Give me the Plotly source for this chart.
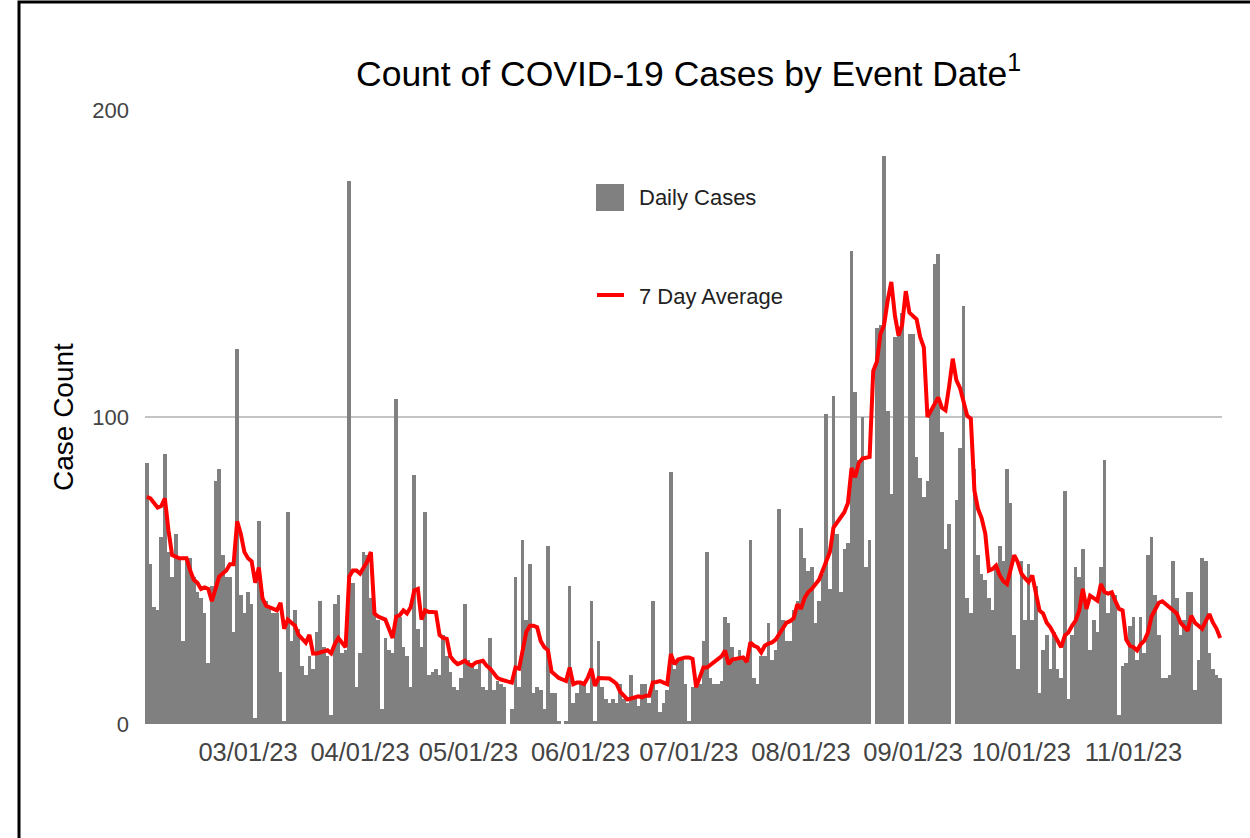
import pandas as pd
import plotly.graph_objects as go

# ---------------- data ----------------
START_DATE = "2023-02-01"

daily_cases = [
    85, 52, 38, 37, 61, 88, 56, 48, 62, 54,
    27, 54, 54, 48, 43, 41, 36, 20, 45, 79,
    83, 55, 48, 48, 30, 122, 42, 36, 43, 39,
    2, 66, 43, 40, 38, 36, 36, 17, 1, 69,
    27, 37, 31, 19, 16, 22, 18, 30, 40, 25,
    22, 3, 39, 42, 23, 24, 177, 46, 12, 23,
    56, 55, 41, 36, 34, 5, 28, 24, 23, 106,
    35, 25, 22, 12, 81, 31, 25, 69, 16, 17,
    18, 16, 29, 22, 17, 12, 11, 15, 39, 21,
    20, 18, 21, 12, 11, 28, 11, 14, 13, 12,
    0, 5, 48, 12, 60, 34, 52, 10, 12, 11,
    5, 58, 10, 10, 1, 0, 1, 45, 7, 10,
    13, 13, 10, 40, 1, 27, 12, 8, 7, 8,
    7, 13, 8, 7, 16, 9, 6, 13, 13, 7,
    40, 11, 4, 7, 11, 82, 18, 21, 21, 13,
    1, 12, 13, 13, 27, 56, 15, 13, 13, 14,
    35, 33, 25, 21, 24, 22, 21, 60, 15, 13,
    22, 22, 33, 21, 24, 70, 34, 27, 27, 37,
    40, 64, 54, 50, 51, 33, 40, 49, 101, 44,
    107, 62, 43, 57, 59, 154, 108, 86, 100, 51,
    60, 0, 129, 130, 185, 102, 75, 126, 127, 134,
    0, 127, 127, 87, 80, 74, 79, 102, 150, 153,
    95, 57, 65, 0, 73, 90, 136, 41, 36, 83,
    55, 49, 47, 41, 37, 51, 58, 53, 83, 72,
    29, 18, 53, 34, 52, 34, 45, 10, 24, 29,
    18, 30, 18, 15, 76, 8, 29, 51, 48, 57,
    38, 24, 34, 30, 51, 86, 36, 43, 42, 3,
    19, 20, 32, 35, 21, 35, 23, 55, 61, 42,
    29, 15, 15, 16, 53, 41, 29, 34, 43, 43,
    11, 21, 54, 53, 23, 18, 16, 15,
]

seven_day_avg = [
    74, 73.5, 72, 70.5, 71, 73.5, 63, 55, 54.5, 54,
    54, 54, 50, 47, 46, 44, 44.5, 44, 40, 44,
    48, 49, 50, 52, 52, 66, 62, 56, 54, 53,
    46, 51, 41, 38.5, 38, 37.5, 37, 39.5, 31, 34,
    33, 32, 29, 27.5, 26.5, 29, 23, 23, 23.3, 23.5,
    24, 23, 26, 28, 26.6, 25, 48, 50, 50, 49,
    51, 53, 56, 36, 35, 34.5, 34, 31, 28, 35,
    35.5, 37, 36, 38, 43.5, 44, 34, 37, 36.5, 36.5,
    36.4, 29, 28, 27.7, 22, 20.5, 19.5, 20, 20.6, 19.5,
    19, 20, 20.3, 20.6, 19, 18, 16.5, 15, 14.5, 14,
    13.8, 13.5, 18.4, 18, 24, 30, 32, 32, 31.5, 27,
    25, 24, 17, 16, 15, 14.5, 14, 18.4, 13, 13.5,
    13.5, 13, 15, 18, 12.4, 15, 15, 15, 14.8, 14,
    13, 10.5, 9, 8, 8.3, 8.6, 9, 8.7, 9.2, 9.2,
    13.5, 13.7, 14, 13.5, 13, 22.8, 19.5, 21, 21.5, 21.7,
    21.7, 21.2, 12, 15, 18.4, 18.4, 19.3, 20, 21, 22,
    23.9, 19.5, 21, 21.3, 21.7, 21.7, 20.2, 26.6, 25.5, 25,
    23.3, 25.5, 26.2, 26.6, 27.5, 29.3, 31, 33, 33.5, 34.5,
    39, 37.5, 41, 43, 44, 45.5, 47, 50, 53, 56,
    64, 65.5, 67, 69, 72, 83.4, 80.4, 85, 86.5, 86.7,
    87, 115, 118, 127, 130, 138, 144, 133, 126.5, 130,
    141, 134, 133, 131.8, 126, 122.7, 100, 102, 104.5, 106.4,
    103, 102.2, 110, 119, 112, 109.5, 105, 100.4, 99.5, 76,
    70, 67, 62, 50, 50.5, 51.6, 48.4, 46.5, 45.6, 51,
    55, 52.7, 49, 47.5, 46.2, 48.4, 42.4, 37, 36, 33,
    31.5, 29.3, 27, 25, 28.8, 29.8, 32, 33.7, 37, 44,
    37.5, 41.8, 41, 40.2, 45.6, 43, 42.5, 42.9, 40, 37.5,
    37, 27.5, 25.5, 25, 24, 26, 27.1, 29.8, 35, 37.5,
    39.5, 40, 39, 38, 37, 36, 33, 31.5, 30.4, 35.3,
    33, 32, 31, 33.5, 35.8, 33, 31, 28,
]

tick_dates = ["2023-03-01", "2023-04-01", "2023-05-01", "2023-06-01",
              "2023-07-01", "2023-08-01", "2023-09-01", "2023-10-01",
              "2023-11-01"]
tick_labels = ["03/01/23", "04/01/23", "05/01/23", "06/01/23", "07/01/23",
               "08/01/23", "09/01/23", "10/01/23", "11/01/23"]
y_ticks = [0, 100, 200]
y_labels = ["0", "100", "200"]

TITLE = "Count of COVID-19 Cases by Event Date<sup>1</sup>"
Y_TITLE = "Case Count"
LEGEND_BAR = "Daily Cases"
LEGEND_LINE = "7 Day Average"

# ---------------- figure ----------------
dates = pd.date_range(START_DATE, periods=len(daily_cases), freq="D")
half_day = pd.Timedelta(hours=12)

W, H = 1250, 838
L, R, T, B = 145, 28, 110, 114
PW, PH = W - L - R, H - T - B


def px(x):
    return (x - L) / PW


def py(y):
    return (H - B - y) / PH


FONT = "Arial, Liberation Sans, Arimo, sans-serif"
BAR_COLOR = "#808080"
LINE_COLOR = "#ff0000"

fig = go.Figure()
fig.add_trace(go.Bar(
    x=dates, y=daily_cases, name=LEGEND_BAR,
    marker=dict(color=BAR_COLOR, line=dict(width=0)),
    showlegend=False,
))
fig.add_trace(go.Scatter(
    x=dates, y=seven_day_avg, name=LEGEND_LINE, mode="lines",
    line=dict(color=LINE_COLOR, width=4),
    showlegend=False,
))

fig.update_layout(
    width=W, height=H,
    margin=dict(l=L, r=R, t=T, b=B, pad=0),
    paper_bgcolor="white", plot_bgcolor="white",
    bargap=0,
    font=dict(family=FONT, color="#444444"),
    xaxis=dict(
        type="date",
        range=[dates[0] - half_day, dates[-1] + half_day],
        tickmode="array", tickvals=tick_dates, ticktext=tick_labels,
        showgrid=False, zeroline=False, showline=False, ticks="",
        tickfont=dict(size=25.5, color="#444444"),
        ticklabelstandoff=10,
    ),
    yaxis=dict(
        range=[0, 200],
        tickmode="array", tickvals=y_ticks, ticktext=y_labels,
        showgrid=True, gridcolor="#c4c4c4", gridwidth=2,
        zeroline=False, showline=False, ticks="",
        tickfont=dict(size=22, color="#444444"),
        ticklabelstandoff=15,
    ),
    shapes=[
        # legend swatches
        dict(type="rect", xref="paper", yref="paper",
             x0=px(596), x1=px(624), y0=py(211), y1=py(184),
             fillcolor=BAR_COLOR, line=dict(width=0)),
        dict(type="line", xref="paper", yref="paper",
             x0=px(597), x1=px(624), y0=py(295), y1=py(295),
             line=dict(color=LINE_COLOR, width=4)),
        # outer frame (top and left edges visible in the picture)
        dict(type="rect", xref="paper", yref="paper",
             x0=px(19), x1=px(1262), y0=py(850), y1=py(2),
             line=dict(color="black", width=3), fillcolor="rgba(0,0,0,0)",
             layer="above"),
    ],
    annotations=[
        dict(text=TITLE, xref="paper", yref="paper",
             x=px(688), y=py(72), xanchor="center", yanchor="middle",
             showarrow=False, font=dict(size=35.5, color="black", family=FONT)),
        dict(text=Y_TITLE, xref="paper", yref="paper",
             x=px(63), y=py(417), xanchor="center", yanchor="middle",
             textangle=-90, showarrow=False,
             font=dict(size=28, color="black", family=FONT)),
        dict(text=LEGEND_BAR, xref="paper", yref="paper",
             x=px(637), y=py(198), xanchor="left", yanchor="middle",
             showarrow=False, font=dict(size=22, color="#222222", family=FONT)),
        dict(text=LEGEND_LINE, xref="paper", yref="paper",
             x=px(637), y=py(296), xanchor="left", yanchor="middle",
             showarrow=False, font=dict(size=22, color="#222222", family=FONT)),
    ],
)

fig.write_html("out.html",
               config={"displayModeBar": False},
               post_script="document.body.style.margin='0px';"
                           "document.body.style.overflow='hidden';")
